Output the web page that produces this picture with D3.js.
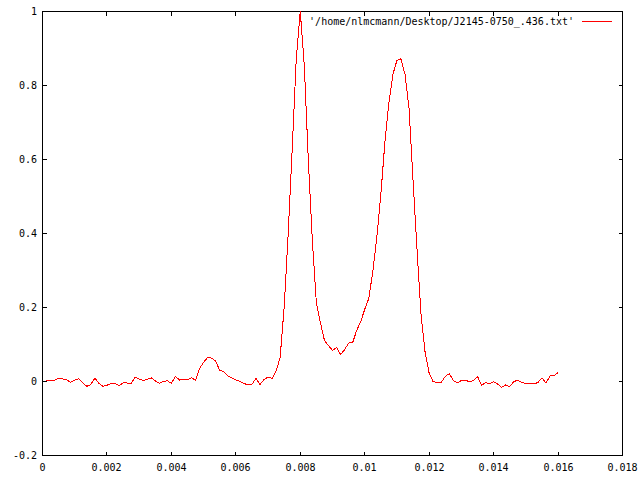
<!DOCTYPE html>
<html>
<head>
<meta charset="utf-8">
<script src="https://cdn.jsdelivr.net/npm/d3@7"></script>
<style>
  html, body { margin: 0; padding: 0; background: #fff; }
  svg { display: block; }
  text { font-family: "DejaVu Sans Mono", "Liberation Mono", monospace; font-size: 10px; fill: #000; }
</style>
</head>
<body>
<svg id="chart" width="640" height="480"></svg>
<script>
// ---- data ----
const binWidth = 0.000125;            // sample spacing in seconds (128 bins over 0.016 s)
const intensity = [
  0.002, 0.003, 0.003, 0.009, 0.007, 0.004, -0.002, 0.004, 0.007, -0.004,
  -0.013, -0.008, 0.009, -0.005, -0.013, -0.010, -0.006, -0.005, -0.011, -0.004,
  -0.004, -0.005, 0.012, 0.006, 0.003, 0.006, 0.010, 0.002, -0.005, 0.000,
  0.002, -0.005, 0.014, 0.004, 0.005, 0.005, 0.010, 0.003, 0.035, 0.052,
  0.065, 0.063, 0.055, 0.030, 0.027, 0.015, 0.010, 0.004, 0.001, -0.006,
  -0.008, -0.008, 0.009, -0.008, 0.005, 0.012, 0.008, 0.028, 0.065, 0.201,
  0.399, 0.629, 0.872, 1.000, 0.854, 0.597, 0.381, 0.211, 0.159, 0.111,
  0.097, 0.084, 0.092, 0.073, 0.086, 0.104, 0.105, 0.138, 0.162, 0.195,
  0.224, 0.297, 0.389, 0.505, 0.646, 0.754, 0.830, 0.868, 0.872, 0.830,
  0.738, 0.543, 0.354, 0.178, 0.078, 0.022, -0.001, -0.002, -0.002, 0.014,
  0.021, 0.003, -0.004, 0.003, 0.004, -0.001, 0.003, 0.014, -0.011, -0.003,
  -0.006, -0.001, -0.007, -0.016, -0.009, -0.014, 0.000, 0.003, -0.003, -0.005,
  -0.006, -0.006, -0.003, 0.010, -0.004, 0.015, 0.016, 0.024
];
const xTicks = [0, 0.002, 0.004, 0.006, 0.008, 0.01, 0.012, 0.014, 0.016, 0.018];
const xTickLabels = ["0", "0.002", "0.004", "0.006", "0.008", "0.01", "0.012", "0.014", "0.016", "0.018"];
const yTicks = [-0.2, 0, 0.2, 0.4, 0.6, 0.8, 1];
const yTickLabels = ["-0.2", "0", "0.2", "0.4", "0.6", "0.8", "1"];
const legendLabel = "'/home/nlmcmann/Desktop/J2145-0750_.436.txt'";

// ---- layout ----
const svg = d3.select("#chart");
const x = d3.scaleLinear().domain([0, 0.018]).range([42.5, 622.5]);
const y = d3.scaleLinear().domain([-0.2, 1]).range([455.5, 11.5]);
const tickLen = 4;

const points = intensity.map((v, i) => ({ t: (i + 1) * binWidth, v }));

// frame
svg.append("rect")
  .attr("x", x(0)).attr("y", y(1))
  .attr("width", x(0.018) - x(0)).attr("height", y(-0.2) - y(1))
  .attr("fill", "none").attr("stroke", "#000").attr("stroke-width", 1)
  .attr("shape-rendering", "crispEdges");

// x ticks (bottom and mirrored top)
const gx = svg.append("g").attr("shape-rendering", "crispEdges");
xTicks.forEach((t, i) => {
  const px = Math.round(x(t) - 0.5) + 0.5;
  gx.append("line").attr("x1", px).attr("x2", px)
    .attr("y1", y(-0.2)).attr("y2", y(-0.2) - tickLen).attr("stroke", "#000");
  gx.append("line").attr("x1", px).attr("x2", px)
    .attr("y1", y(1)).attr("y2", y(1) + tickLen).attr("stroke", "#000");
  svg.append("text").attr("x", px).attr("y", 471)
    .attr("text-anchor", "middle").text(xTickLabels[i]);
});

// y ticks (left and mirrored right)
const gy = svg.append("g").attr("shape-rendering", "crispEdges");
yTicks.forEach((t, i) => {
  const py = Math.round(y(t) - 0.5) + 0.5;
  gy.append("line").attr("x1", x(0)).attr("x2", x(0) + tickLen)
    .attr("y1", py).attr("y2", py).attr("stroke", "#000");
  gy.append("line").attr("x1", x(0.018)).attr("x2", x(0.018) - tickLen)
    .attr("y1", py).attr("y2", py).attr("stroke", "#000");
  svg.append("text").attr("x", 37).attr("y", py + 3.5)
    .attr("text-anchor", "end").text(yTickLabels[i]);
});

// data line
const line = d3.line().x(d => x(d.t)).y(d => y(d.v));
svg.append("path").datum(points)
  .attr("d", line)
  .attr("fill", "none").attr("stroke", "#ff0000").attr("stroke-width", 1)
  .attr("shape-rendering", "crispEdges");

// legend
svg.append("text").attr("x", 574).attr("y", 24.5)
  .attr("text-anchor", "end").text(legendLabel);
svg.append("line").attr("x1", 582).attr("x2", 612)
  .attr("y1", 21.5).attr("y2", 21.5)
  .attr("stroke", "#ff0000").attr("stroke-width", 1)
  .attr("shape-rendering", "crispEdges");
</script>
</body>
</html>
